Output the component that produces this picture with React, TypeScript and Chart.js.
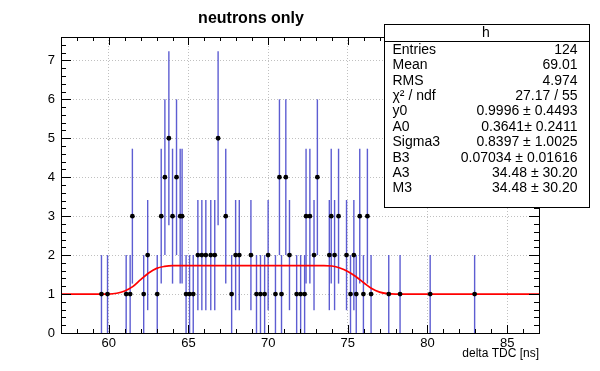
import { useEffect, useRef } from 'react';
import { Chart, registerables } from 'chart.js';
Chart.register(...registerables);

const binCenters = [59.54, 59.92, 61.09, 61.34, 61.48, 62.19, 62.44, 63.04, 63.29, 63.52, 63.77, 64.0, 64.25, 64.48, 64.6, 64.85, 65.07, 65.3, 65.59, 65.84, 66.09, 66.4, 66.65, 66.86, 67.34, 67.71, 67.96, 68.19, 68.92, 69.27, 69.52, 69.78, 70.0, 70.46, 70.71, 70.84, 71.11, 71.34, 71.79, 72.04, 72.29, 72.38, 72.62, 72.88, 73.09, 73.84, 73.96, 74.17, 74.42, 74.92, 75.17, 75.38, 75.53, 75.75, 75.98, 76.23, 76.46, 77.57, 78.28, 80.17, 82.96];
const binCounts = [1, 1, 1, 1, 3, 1, 2, 1, 3, 4, 5, 3, 4, 3, 3, 1, 1, 1, 2, 2, 2, 2, 2, 5, 3, 1, 2, 2, 2, 1, 1, 1, 2, 1, 4, 1, 4, 2, 1, 1, 1, 3, 3, 2, 4, 2, 3, 2, 3, 2, 1, 2, 1, 3, 1, 3, 1, 1, 1, 1, 1];

const fitX = [57, 60, 60.5, 61, 61.5, 62, 62.5, 63, 63.5, 64, 73.5, 74, 74.5, 75, 75.5, 76, 76.5, 77, 77.5, 78, 87];
const fitY = [1.0, 1.0, 1.02, 1.08, 1.19, 1.37, 1.54, 1.66, 1.71, 1.73, 1.73, 1.72, 1.67, 1.58, 1.45, 1.29, 1.14, 1.05, 1.01, 1.0, 1.0];

const xTickValues = [60, 65, 70, 75, 80, 85];
const yTickValues = [0, 1, 2, 3, 4, 5, 6, 7];

const chartTitle = 'neutrons only';
const xAxisTitle = 'delta TDC [ns]';
const statsName = 'h';
const statsLabels = ['Entries', 'Mean', 'RMS', 'χ² / ndf', 'y0', 'A0', 'Sigma3', 'B3', 'A3', 'M3'];
const statsValues = ['124', '69.01', '4.974', '27.17 / 55', '0.9996 ± 0.4493', '0.3641± 0.2411', '0.8397 ± 1.0025', '0.07034 ± 0.01616', '34.48 ± 30.20', '34.48 ± 30.20'];

const FONT = '"Liberation Sans", Arial, Helvetica, sans-serif';

const rootPlugin = {
  id: 'rootStyle',
  beforeDatasetsDraw(chart: any) {
    const ctx = chart.ctx;
    const xs = chart.scales.x;
    const ys = chart.scales.y;
    ctx.save();
    ctx.strokeStyle = 'rgba(75,75,205,0.9)';
    ctx.lineWidth = 1.4;
    for (let i = 0; i < binCenters.length; i++) {
      const n = binCounts[i];
      const e = Math.sqrt(n);
      const px = xs.getPixelForValue(binCenters[i]);
      const y1 = ys.getPixelForValue(Math.max(0, n - e));
      const y2 = ys.getPixelForValue(n + e);
      ctx.beginPath();
      ctx.moveTo(px, y1);
      ctx.lineTo(px, y2);
      ctx.stroke();
    }
    ctx.restore();
  },
  afterDraw(chart: any) {
    const ctx = chart.ctx;
    const a = chart.chartArea;
    const xs = chart.scales.x;
    const ys = chart.scales.y;
    ctx.save();
    ctx.strokeStyle = '#000';
    ctx.lineWidth = 1;
    ctx.strokeRect(Math.round(a.left) + 0.5, Math.round(a.top) + 0.5, Math.round(a.right - a.left), Math.round(a.bottom - a.top));
    ctx.beginPath();
    for (let v = 58; v <= 86; v += 1) {
      const px = Math.round(xs.getPixelForValue(v)) + 0.5;
      const len = v % 5 === 0 ? 8 : 4;
      ctx.moveTo(px, a.bottom);
      ctx.lineTo(px, a.bottom - len);
      ctx.moveTo(px, a.top);
      ctx.lineTo(px, a.top + len);
    }
    for (let k = 0; k <= 38; k++) {
      const v = k * 0.2;
      const py = Math.round(ys.getPixelForValue(v)) + 0.5;
      const len = k % 5 === 0 ? 10 : 5;
      ctx.moveTo(a.left, py);
      ctx.lineTo(a.left + len, py);
      ctx.moveTo(a.right, py);
      ctx.lineTo(a.right - len, py);
    }
    ctx.stroke();

    ctx.fillStyle = '#000';
    ctx.font = 'bold 16px ' + FONT;
    ctx.textAlign = 'center';
    ctx.textBaseline = 'middle';
    ctx.fillText(chartTitle, 251, 19);

    ctx.font = '12px ' + FONT;
    ctx.textAlign = 'right';
    ctx.fillText(xAxisTitle, a.right, 354);

    const bx = 384.5, by = 24.5, bw = 205, bh = 183;
    ctx.fillStyle = '#fff';
    ctx.fillRect(bx, by, bw, bh);
    ctx.strokeStyle = '#000';
    ctx.strokeRect(bx, by, bw, bh);
    ctx.beginPath();
    ctx.moveTo(bx, 41.5);
    ctx.lineTo(bx + bw, 41.5);
    ctx.stroke();
    ctx.fillStyle = '#000';
    ctx.font = '14px ' + FONT;
    ctx.textAlign = 'center';
    ctx.fillText(statsName, 486, 33);
    for (let i = 0; i < statsLabels.length; i++) {
      const ty = 50 + i * 15.4;
      ctx.textAlign = 'left';
      ctx.fillText(statsLabels[i], 392.5, ty);
      ctx.textAlign = 'right';
      ctx.fillText(statsValues[i], 577.5, ty);
    }
    ctx.restore();
  },
};

export default function App() {
  const ref = useRef<HTMLCanvasElement | null>(null);
  useEffect(() => {
    if (!ref.current) return;
    const chart = new Chart(ref.current, {
      type: 'scatter',
      data: {
        datasets: [
          {
            label: 'h',
            data: binCenters.map((x, i) => ({ x, y: binCounts[i] })),
            backgroundColor: '#000',
            borderColor: '#000',
            pointRadius: 2.4,
            pointBorderWidth: 0,
            showLine: false,
            order: 0,
          },
          {
            label: 'fit',
            type: 'line',
            data: fitX.map((x, i) => ({ x, y: fitY[i] })),
            borderColor: '#ff0000',
            borderWidth: 1.7,
            pointRadius: 0,
            fill: false,
            cubicInterpolationMode: 'monotone',
            order: 1,
          } as any,
        ],
      },
      options: {
        responsive: false,
        animation: false,
        devicePixelRatio: 1,
        layout: { padding: { left: 0, right: 61, top: 37, bottom: 0 } },
        plugins: { legend: { display: false }, tooltip: { enabled: false }, title: { display: false } },
        scales: {
          x: {
            type: 'linear',
            min: 57,
            max: 87,
            afterBuildTicks: (s: any) => { s.ticks = xTickValues.map((v) => ({ value: v })); },
            afterFit: (s: any) => { s.height = 38; },
            ticks: { color: '#000', font: { family: FONT, size: 13 }, padding: 3, maxRotation: 0 },
            grid: { color: '#c0c0c0', lineWidth: 1, drawTicks: false },
            border: { display: false, dash: [1, 2] },
          },
          y: {
            type: 'linear',
            min: 0,
            max: 7.6,
            afterBuildTicks: (s: any) => { s.ticks = yTickValues.map((v) => ({ value: v })); },
            afterFit: (s: any) => { s.width = 61; },
            ticks: { color: '#000', font: { family: FONT, size: 13 }, padding: 6 },
            grid: { color: '#c0c0c0', lineWidth: 1, drawTicks: false },
            border: { display: false, dash: [1, 2] },
          },
        },
      },
      plugins: [rootPlugin],
    });
    return () => chart.destroy();
  }, []);
  return (
    <div style={{ position: 'absolute', left: 0, top: 0, width: 600, height: 371, background: '#fff' }}>
      <canvas ref={ref} width={600} height={371} />
    </div>
  );
}
